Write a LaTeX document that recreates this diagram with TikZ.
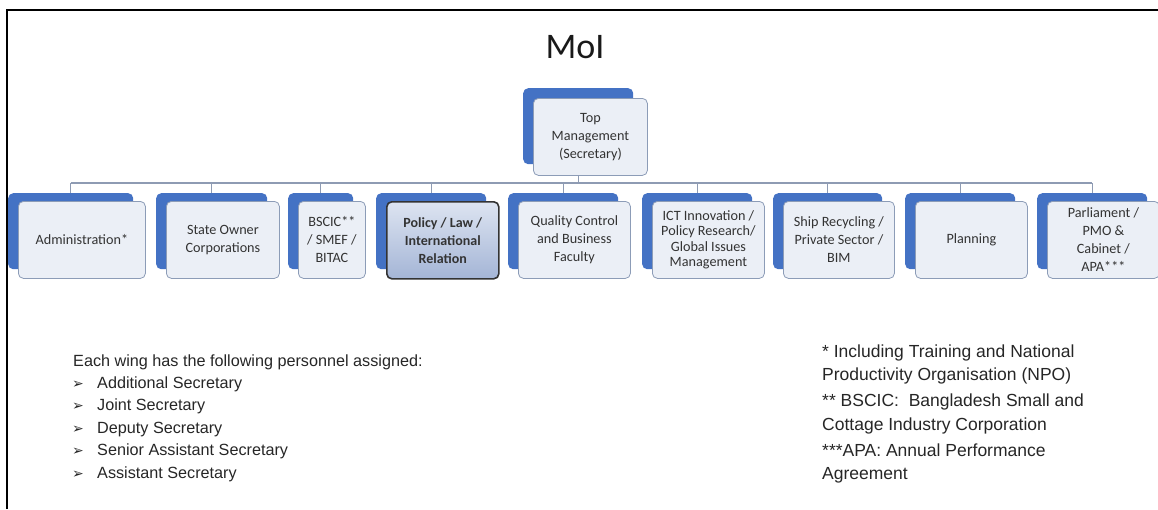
\documentclass[tikz,border=0pt]{standalone}
\usepackage{fontspec}
\setmainfont{Liberation Sans}
\newfontfamily\cardfont{Carlito}
\newfontfamily\symfont{DejaVu Sans}

\definecolor{wingblue}{HTML}{4472C4}
\definecolor{cardfill}{HTML}{EBEFF6}
\definecolor{cardline}{HTML}{8C9CB7}
\definecolor{busline}{HTML}{8E9BB3}
\definecolor{cardtext}{HTML}{333333}
\definecolor{notetext}{HTML}{262626}
\definecolor{seltop}{HTML}{DDE4F1}
\definecolor{selbottom}{HTML}{A4B5D6}

\tikzset{
  backcard/.style={rectangle, rounded corners=5pt, fill=wingblue, minimum height=76pt, inner sep=0pt},
  frontcard/.style={rectangle, rounded corners=5pt, fill=cardfill, draw=cardline, line width=0.8pt,
    minimum height=77pt, inner sep=0pt, align=center, text=cardtext,
    font=\cardfont\fontsize{14.2}{18}\selectfont},
  selcard/.style={top color=seltop, bottom color=selbottom, draw=black!80, line width=1.6pt,
    font=\cardfont\bfseries\fontsize{14}{18}\selectfont},
  bus/.style={draw=busline, line width=1.3pt},
  lefttext/.style={inner sep=0pt, text=notetext, font=\fontsize{16.2}{20}\selectfont},
  righttext/.style={inner sep=0pt, text=notetext, font=\fontsize{17.5}{21}\selectfont},
  bulletmark/.style={inner sep=0pt, text=notetext, font=\symfont\fontsize{14}{16}\selectfont},
}

% one wing: blue card behind a light card
% #1 name, #2 left x of the blue card, #3 width, #4 label, #5 extra style
\newcommand\wingcard[5]{%
  \node[backcard, minimum width=#3pt, anchor=north west] (#1B) at (#2,193) {};
  \node[frontcard, minimum width=#3pt+2pt, anchor=north west, #5] (#1) at (#2+10,201) {#4};
}

\begin{document}
\begin{tikzpicture}[x=1pt, y=-1pt]
\useasboundingbox (0,0) rectangle (1158,509);

% frame
\draw[line width=2pt] (7,509) -- (7,10) -- (1158,10);

% title
\node[inner sep=0pt, anchor=base, text=black!90, font=\cardfont\fontsize{36}{40}\selectfont] (title) at (575,58) {MoI};

% top management
\node[backcard, minimum width=110pt, anchor=north west] (topB) at (523,88) {};
\node[frontcard, minimum width=114pt, anchor=north west] (top) at (533,98) {Top\\Management\\(Secretary)};

% wings
\wingcard{admin}{8}{125}{Administration*}{}
\wingcard{state}{156}{111}{State Owner\\Corporations}{}
\wingcard{bscic}{288}{65}{BSCIC**\\/ SMEF /\\BITAC}{}
\wingcard{policy}{376}{110}{Policy / Law /\\International\\Relation}{selcard}
\wingcard{quality}{508}{110}{Quality Control\\and Business\\Faculty}{}
\wingcard{ict}{642}{110}{ICT Innovation /\\Policy Research/\\Global Issues\\Management}{font=\cardfont\fontsize{14.2}{15.4}\selectfont}
\wingcard{ship}{773}{109}{Ship Recycling /\\Private Sector /\\BIM}{}
\wingcard{plan}{905}{110}{Planning}{}
\wingcard{parl}{1037}{110}{Parliament /\\PMO \&\\Cabinet /\\APA***}{}

% connectors
\coordinate (busL) at (70,183);
\draw[bus] (topB |- top.south) -- (topB |- busL);
\draw[bus] (adminB.north |- busL) -- (parlB.north |- busL);
\foreach \n in {adminB,stateB,bscicB,policyB,qualityB,ictB,shipB,planB,parlB}
  \draw[bus] (\n.north) -- (\n.north |- busL);

% personnel list
\node[lefttext, anchor=base west] (intro) at (73,366) {Each wing has the following personnel assigned:};
\node[bulletmark, anchor=base west] (m1) at (72,388) {➢};
\node[bulletmark, anchor=base west] (m2) at (72,410.5) {➢};
\node[bulletmark, anchor=base west] (m3) at (72,433) {➢};
\node[bulletmark, anchor=base west] (m4) at (72,455.5) {➢};
\node[bulletmark, anchor=base west] (m5) at (72,478) {➢};
\node[lefttext, anchor=base west] (p1) at (97,388) {Additional Secretary};
\node[lefttext, anchor=base west] (p2) at (97,410.5) {Joint Secretary};
\node[lefttext, anchor=base west] (p3) at (97,433) {Deputy Secretary};
\node[lefttext, anchor=base west] (p4) at (97,455.5) {Senior Assistant Secretary};
\node[lefttext, anchor=base west] (p5) at (97,478) {Assistant Secretary};

% footnotes
\node[righttext, anchor=base west] (n1) at (822,357) {* Including Training and National};
\node[righttext, anchor=base west] (n2) at (822,380) {Productivity Organisation (NPO)};
\node[righttext, anchor=base west] (n3) at (822,406) {** BSCIC:\ \ Bangladesh Small and};
\node[righttext, anchor=base west] (n4) at (822,430) {Cottage Industry Corporation};
\node[righttext, anchor=base west] (n5) at (822,456.5) {***APA: Annual Performance};
\node[righttext, anchor=base west] (n6) at (822,479.5) {Agreement};
\end{tikzpicture}
\end{document}
